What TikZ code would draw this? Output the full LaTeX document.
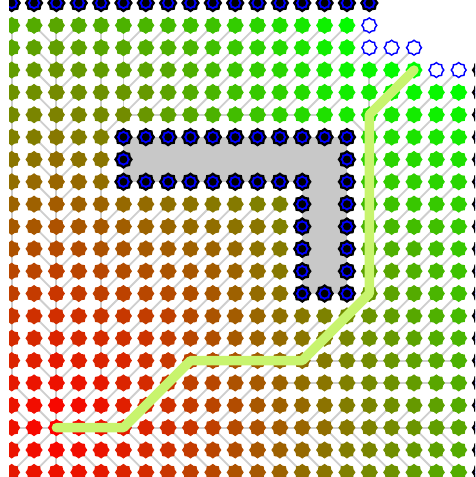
\documentclass[tikz,border=0pt]{standalone}
\usetikzlibrary{shapes.geometric}
\definecolor{RouteGreen}{RGB}{200,244,110}
\definecolor{WallBlue}{RGB}{0,0,255}
\definecolor{TreeGray}{RGB}{206,206,206}
\definecolor{BlockGray}{RGB}{200,200,200}

\tikzset{
  cell/.style={star, star points=8, star point ratio=1.2, minimum size=0.46cm, inner sep=0pt},
  wall/.style={cell, fill=WallBlue, draw=black, line width=1.7pt, minimum size=0.43cm},
  wallcore/.style={circle, fill=black, minimum size=0.21cm, inner sep=0pt},
  opencell/.style={cell, fill=white, draw=WallBlue, line width=1.1pt, minimum size=0.40cm},
  tree/.style={TreeGray, line width=1.4pt},
  route/.style={RouteGreen, line width=7.2pt, line cap=round, line join=round}
}

\begin{document}
\begin{tikzpicture}[x=0.6cm, y=0.6cm,
  declare function={
    octdist(\i,\j)=max(abs(\i),abs(\j))+0.41421*min(abs(\i),abs(\j));
    iswall(\i,\j)=(\j==6 && \i>=5 && \i<=15) || (\j==8 && \i>=5 && \i<=13) || (\i==5 && \j==7)
      || (\i==15 && \j>=7 && \j<=13) || (\i==13 && \j>=9 && \j<=13) || (\j==13 && \i>=13 && \i<=15);
    isgone(\i,\j)=(\j==7 && \i>=6 && \i<=14) || (\i==14 && \j>=7 && \j<=12) || (\j==1 && \i>=17) || (\j==2 && \i>=19);
    isopen(\i,\j)=(\i==16 && \j<=2) || (\j==2 && \i>=17 && \i<=18) || (\j==3 && \i>=19);
  }]
\useasboundingbox (-0.5235,0.1342) rectangle (20.7298,-21.2081);
\clip (-0.12,0.1342) rectangle (20.7298,-21.2081);

% grid points
\foreach \c in {0,...,21}
  \foreach \r in {0,...,21}
    \coordinate (g-\c-\r) at (\c,-\r);

% blocked area
\fill[BlockGray] (g-5-6) -- (g-15-6) -- (g-15-13) -- (g-13-13) -- (g-13-8) -- (g-5-8) -- cycle;

% search tree: cost and parent of each reached cell
\foreach \c in {0,...,20}{
  \foreach \r in {1,...,21}{
    \pgfmathtruncatemacro\kind{ifthenelse(iswall(\c,\r),1,ifthenelse(isgone(\c,\r),2,ifthenelse(isopen(\c,\r),3,0)))}
    \expandafter\xdef\csname k-\c-\r\endcsname{\kind}
    \ifnum\kind=1 \else\ifnum\kind=2 \else
      \pgfmathsetmacro\costS{octdist(\c-2,19-\r)}
      \pgfmathsetmacro\costL{13.82843+octdist(\c-4,6-\r)}
      \pgfmathsetmacro\costR{16.48528+octdist(\c-16,13-\r)}
      \pgfmathtruncatemacro\anchor{ifthenelse(\r<=5 && \c>=5,
        ifthenelse((\c>=16 || \c-\r>=10) && \costR<\costL-0.001, 2, 1),
        ifthenelse(\c>=16 && \r<=13 && \c+\r<=28, 2, 0))}
      \ifcase\anchor \def\anc{2}\def\anr{19}\let\cost\costS
      \or \def\anc{4}\def\anr{6}\let\cost\costL
      \or \def\anc{16}\def\anr{13}\let\cost\costR \fi
      \pgfmathtruncatemacro\ax{\c-\anc}
      \pgfmathtruncatemacro\ay{\anr-\r}
      \pgfmathtruncatemacro\isvert{abs(\ay)>abs(\ax) && ((\anchor==0 && (\ax==0 || abs(\ax)==2))
        || (\anchor==1 && \ax==1) || (\anchor==2 && \ax==0))}
      \pgfmathtruncatemacro\ishorz{abs(\ax)>abs(\ay) && (\ay==0 || (\anchor==1 && \ay==1)
        || (\anchor==0 && \ax>=11 && (\ay==2 || \ay==3)))}
      \pgfmathtruncatemacro\parc{\c-sign(\ax)*(1-\isvert)}
      \pgfmathtruncatemacro\parr{\r+sign(\ay)*(1-\ishorz)}
      \pgfmathtruncatemacro\heat{min(100,100*\cost/27.31371)}
      \expandafter\xdef\csname t-\c-\r\endcsname{\heat}
      \pgfmathtruncatemacro\isroot{\ax==0 && \ay==0}
      \ifnum\isroot=0 \draw[tree] (g-\c-\r) -- (g-\parc-\parr);\fi
    \fi\fi
  }
}

% cells
\foreach \c in {0,...,20}{
  \foreach \r in {1,...,21}{
    \edef\kind{\csname k-\c-\r\endcsname}
    \edef\heat{\csname t-\c-\r\endcsname}
    \ifcase\kind
      \node[cell, fill=green!\heat!red] (v-\c-\r) at (g-\c-\r) {};
    \or
      \node[wall] (v-\c-\r) at (g-\c-\r) {};
      \node[wallcore] (vc-\c-\r) at (v-\c-\r) {};
    \or
    \or
      \node[opencell] (v-\c-\r) at (g-\c-\r) {};
    \fi
  }
}

% border walls
\foreach \c in {0,...,16}{
  \node[wall] (v-\c-0) at (g-\c-0) {};
  \node[wallcore] (vc-\c-0) at (v-\c-0) {};
}
\foreach \r in {3,...,21}{
  \node[wall] (v-21-\r) at (g-21-\r) {};
  \node[wallcore] (vc-21-\r) at (v-21-\r) {};
}

% route found
\draw[route] (g-2-19) -- (g-5-19) -- (g-8-16) -- (g-13-16) -- (g-16-13) -- (g-16-5) -- (g-18-3);
\end{tikzpicture}
\end{document}
